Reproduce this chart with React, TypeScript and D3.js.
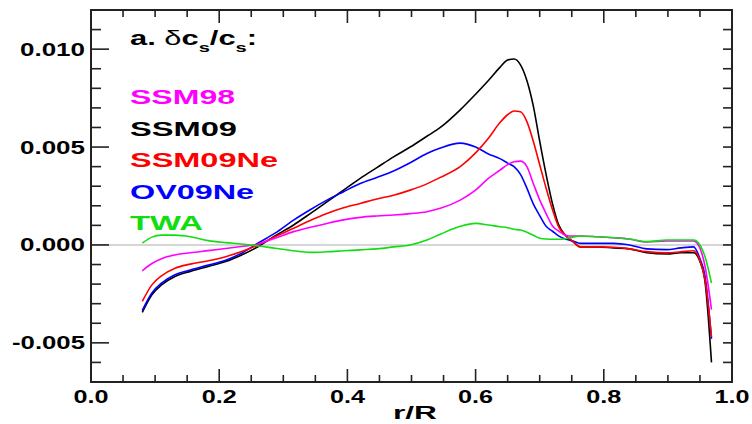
import React, { useEffect, useRef } from "react";
import * as d3 from "d3";

// r/R grid shared by all curves
const radius = [
  0.08, 0.095, 0.11, 0.131, 0.155, 0.183, 0.21, 0.235, 0.261, 0.287,
  0.316, 0.342, 0.368, 0.394, 0.42, 0.446, 0.472, 0.498, 0.524, 0.545,
  0.576, 0.6, 0.62, 0.638, 0.65, 0.66, 0.67, 0.68, 0.69, 0.7,
  0.71, 0.72, 0.73, 0.74, 0.752, 0.763, 0.79, 0.815, 0.84, 0.867,
  0.898, 0.92, 0.94, 0.95, 0.958, 0.968,
];

const ssm98 = [
  -0.00132, -0.00095, -0.0007, -0.00051, -0.0004, -0.00029, -0.00018, -0.00008, 0.00005, 0.00034,
  0.00068, 0.0009, 0.0011, 0.00128, 0.00141, 0.00148, 0.00153, 0.0016, 0.0017, 0.00187,
  0.00229, 0.0028, 0.0034, 0.00382, 0.0041, 0.00425, 0.00428, 0.004, 0.00314, 0.0023,
  0.0016, 0.00097, 0.0007, 0.0005, 0.00045, 0.00046, 0.00042, 0.00037, 0.0003, 0.00015,
  0.0002, 0.0002, 0.0002, -0.00017, -0.0011, -0.0033,
];

const ssm09 = [
  -0.00344, -0.00254, -0.00204, -0.00161, -0.00135, -0.0011, -0.00085, -0.00051, -0.00008, 0.00046,
  0.00102, 0.0016, 0.0022, 0.0028, 0.0034, 0.00395, 0.0045, 0.005, 0.00555, 0.006,
  0.0069, 0.0077, 0.0084, 0.00907, 0.00945, 0.0095, 0.0092, 0.0084, 0.0071, 0.0053,
  0.0036, 0.0021, 0.001, 0.0005, 0.00017, -0.0001, -0.0001, -0.00015, -0.0002, -0.0004,
  -0.00046, -0.0004, -0.0004, -0.00085, -0.0019, -0.006,
];

const ssm09ne = [
  -0.00288, -0.00204, -0.00158, -0.00119, -0.00098, -0.00081, -0.0006, -0.00034, 0.0, 0.00042,
  0.00085, 0.00125, 0.00161, 0.0019, 0.00212, 0.00235, 0.00254, 0.0028, 0.00312, 0.00345,
  0.004, 0.0047, 0.00545, 0.00625, 0.00665, 0.00684, 0.0068, 0.0063, 0.0053, 0.0041,
  0.0029, 0.0018, 0.0009, 0.0005, 0.00017, -0.0001, -0.0001, -0.00012, -0.0002, -0.00034,
  -0.0004, -0.00035, -0.0003, -0.0008, -0.0018, -0.0047,
];

const ov09ne = [
  -0.00334, -0.00245, -0.00195, -0.00152, -0.00128, -0.00103, -0.00078, -0.00042, 0.0001, 0.0006,
  0.00127, 0.0018, 0.00229, 0.00272, 0.00314, 0.00345, 0.00378, 0.0042, 0.00467, 0.00495,
  0.0052, 0.005, 0.00465, 0.00441, 0.00418, 0.004, 0.0036, 0.0029, 0.0021, 0.0015,
  0.00095, 0.0007, 0.00045, 0.0003, 0.0002, 0.00008, 0.00008, 0.00008, 0.0, -0.0002,
  -0.00024, -0.00015, -0.0001, -0.0007, -0.0016, -0.0048,
];

const twa = [
  0.00009, 0.0004, 0.0005, 0.0005, 0.00042, 0.00022, 0.00012, 0.00005, -0.00005, -0.00017,
  -0.0003, -0.00038, -0.00035, -0.0003, -0.00025, -0.0002, -0.0001, 0.0, 0.00025, 0.00055,
  0.00095, 0.0011, 0.00102, 0.00093, 0.00088, 0.0008, 0.00076, 0.00065, 0.0005, 0.00034,
  0.0003, 0.00029, 0.00029, 0.00032, 0.0004, 0.00046, 0.00042, 0.00037, 0.0003, 0.00017,
  0.00025, 0.00025, 0.00025, 0.0, -0.0006, -0.00195,
];

const seriesNames = ["SSM98", "SSM09", "SSM09Ne", "OV09Ne", "TWA"];
const seriesValues = [ssm98, ssm09, ssm09ne, ov09ne, twa];
const seriesColors = ["#ff00ff", "#000000", "#ff0000", "#0000ff", "#11dd11"];

const yTicks = [-0.005, 0.0, 0.005, 0.01];
const yTickLabels = ["-0.005", "0.000", "0.005", "0.010"];
const xTicks = [0, 0.2, 0.4, 0.6, 0.8, 1.0];
const xTickLabels = ["0.0", "0.2", "0.4", "0.6", "0.8", "1.0"];

const W = 752;
const H = 424;
const m = { left: 91, right: 732, top: 10, bottom: 382 };
const font = "'Liberation Sans', Arial, sans-serif";

// text in the original is horizontally stretched, so fix each label's width
const legendWidths = [105, 107, 148, 124, 73];

const App = () => {
  const svgRef = useRef<SVGSVGElement>(null);

  useEffect(() => {
    const svg = d3.select(svgRef.current);
    svg.selectAll("*").remove();

    const x = d3.scaleLinear().domain([0, 1]).range([m.left, m.right]);
    const y = d3.scaleLinear().domain([-0.007, 0.012]).range([m.bottom, m.top]);

    // zero line
    svg.append("line")
      .attr("x1", m.left).attr("x2", m.right)
      .attr("y1", y(0)).attr("y2", y(0))
      .attr("stroke", "#c8c8c8").attr("stroke-width", 1.6);

    // curves, black underneath
    const order = [1, 3, 2, 0, 4];
    const line = d3.line<number>()
      .x((_, i) => x(radius[i]))
      .y((d) => y(d))
      .curve(d3.curveMonotoneX);
    order.forEach((k) => {
      svg.append("path")
        .attr("d", line(seriesValues[k]))
        .attr("fill", "none")
        .attr("stroke", seriesColors[k])
        .attr("stroke-width", 1.6)
        .attr("stroke-linejoin", "round");
    });

    // frame
    svg.append("rect")
      .attr("x", m.left).attr("y", m.top)
      .attr("width", m.right - m.left).attr("height", m.bottom - m.top)
      .attr("fill", "none").attr("stroke", "#222").attr("stroke-width", 2);

    const ticks = svg.append("g").attr("stroke", "#222").attr("stroke-width", 1.6);

    // y ticks every 0.001
    d3.range(-6, 12).forEach((i) => {
      const v = i / 1000;
      const major = i % 5 === 0;
      ticks.append("line")
        .attr("x1", m.left).attr("x2", m.left + (major ? 18 : 10))
        .attr("y1", y(v)).attr("y2", y(v));
      ticks.append("line")
        .attr("x1", m.right).attr("x2", m.right - 9)
        .attr("y1", y(v)).attr("y2", y(v));
    });

    // x ticks every 0.05
    d3.range(1, 20).forEach((i) => {
      const v = i * 0.05;
      const major = i % 4 === 0;
      const len = major ? 13 : 7;
      ticks.append("line")
        .attr("x1", x(v)).attr("x2", x(v))
        .attr("y1", m.bottom).attr("y2", m.bottom - len);
      ticks.append("line")
        .attr("x1", x(v)).attr("x2", x(v))
        .attr("y1", m.top).attr("y2", m.top + len);
    });

    // y tick labels
    yTicks.forEach((v, i) => {
      const w = yTickLabels[i].startsWith("-") ? 73 : 65;
      svg.append("text")
        .attr("x", 85 - w).attr("y", y(v) + 6.5)
        .attr("textLength", w).attr("lengthAdjust", "spacingAndGlyphs")
        .attr("font-family", font).attr("font-weight", "bold").attr("font-size", 18)
        .text(yTickLabels[i]);
    });

    // x tick labels
    xTicks.forEach((v, i) => {
      svg.append("text")
        .attr("x", x(v) - 17.5).attr("y", 403)
        .attr("textLength", 35).attr("lengthAdjust", "spacingAndGlyphs")
        .attr("font-family", font).attr("font-weight", "bold").attr("font-size", 18)
        .text(xTickLabels[i]);
    });

    // axis title
    svg.append("text")
      .attr("x", 393).attr("y", 419)
      .attr("textLength", 44).attr("lengthAdjust", "spacingAndGlyphs")
      .attr("font-family", font).attr("font-weight", "bold").attr("font-size", 18)
      .text("r/R");

    // panel title
    const title = svg.append("text")
      .attr("x", 130).attr("y", 45)
      .attr("textLength", 127).attr("lengthAdjust", "spacingAndGlyphs")
      .attr("font-family", font).attr("font-weight", "bold").attr("font-size", 20);
    title.append("tspan").text("a. ");
    title.append("tspan").attr("font-weight", "normal").text("δ");
    title.append("tspan").text("c");
    title.append("tspan").attr("font-size", 13).attr("dy", 7).text("s");
    title.append("tspan").attr("dy", -7).text("/c");
    title.append("tspan").attr("font-size", 13).attr("dy", 7).text("s");
    title.append("tspan").attr("dy", -7).text(":");

    // legend
    seriesNames.forEach((name, i) => {
      svg.append("text")
        .attr("x", 130).attr("y", 104 + i * 31.5)
        .attr("textLength", legendWidths[i]).attr("lengthAdjust", "spacingAndGlyphs")
        .attr("font-family", font).attr("font-weight", "bold").attr("font-size", 20.5)
        .attr("fill", seriesColors[i])
        .text(name);
    });
  }, []);

  return (
    <svg
      ref={svgRef}
      width={W}
      height={H}
      style={{ position: "fixed", left: 0, top: 0, background: "#fff" }}
    />
  );
};

export default App;
